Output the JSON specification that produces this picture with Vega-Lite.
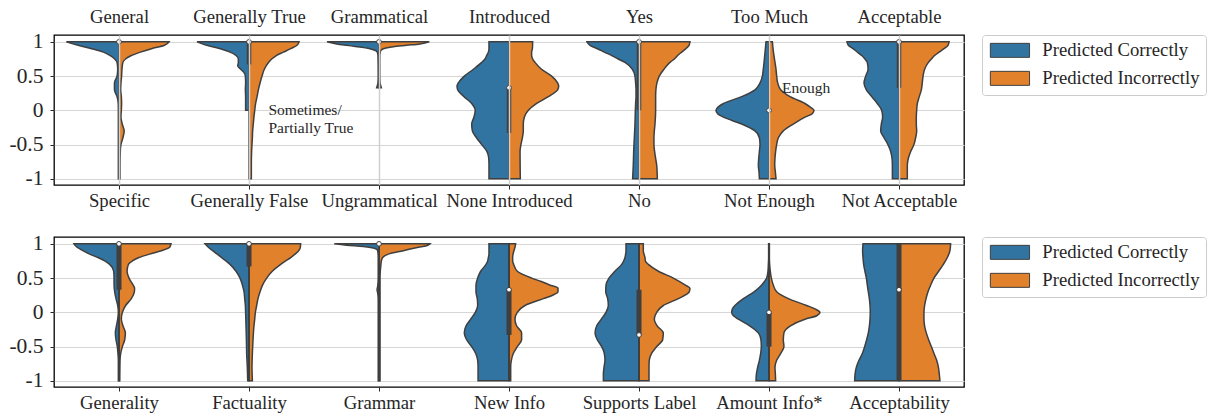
{
"$schema": "https://vega.github.io/schema/vega-lite/v6.json",
"padding": {"left": 8, "top": 6, "right": 0, "bottom": 0},
"config": {
 "font": "Liberation Serif",
 "view": {"stroke": "#000000", "strokeWidth": 1.3},
 "axis": {"labelColor": "#262626", "labelFont": "Liberation Serif", "domain": false, "gridColor": "#d6d6d6", "gridWidth": 1.2, "tickColor": "#262626", "title": null},
 "legend": {"labelFont": "Liberation Serif", "title": null, "symbolType": "M-2.8,-1H2.8V1H-2.8Z", "symbolSize": 196, "symbolOffset": 12.6, "symbolStrokeColor": "#3f3f3f", "symbolStrokeWidth": 1, "symbolOpacity": 1, "labelOffset": 23, "labelFontSize": 18.7, "labelColor": "#262626", "rowPadding": 8, "padding": 6, "offset": 18, "strokeColor": "#cccccc", "fillColor": "#ffffff", "cornerRadius": 3}
},
"datasets": {
"vt": [
{"c":0,"s":"a","v":1,"x":-0.405},{"c":0,"s":"a","v":0.95,"x":-0.315},{"c":0,"s":"a","v":0.9,"x":-0.21},{"c":0,"s":"a","v":0.85,"x":-0.12},{"c":0,"s":"a","v":0.8,"x":-0.067},{"c":0,"s":"a","v":0.75,"x":-0.033},{"c":0,"s":"a","v":0.7,"x":-0.015},{"c":0,"s":"a","v":0.6,"x":-0.01},{"c":0,"s":"a","v":0.5,"x":-0.015},{"c":0,"s":"a","v":0.4,"x":-0.035},{"c":0,"s":"a","v":0.3,"x":-0.035},{"c":0,"s":"a","v":0.2,"x":-0.015},{"c":0,"s":"a","v":0.1,"x":-0.006},{"c":0,"s":"a","v":0,"x":-0.005},{"c":0,"s":"a","v":-0.5,"x":-0.005},{"c":0,"s":"a","v":-1,"x":-0.005},
{"c":0,"s":"b","v":1,"x":0.385},{"c":0,"s":"b","v":0.95,"x":0.35},{"c":0,"s":"b","v":0.9,"x":0.25},{"c":0,"s":"b","v":0.85,"x":0.165},{"c":0,"s":"b","v":0.8,"x":0.095},{"c":0,"s":"b","v":0.75,"x":0.05},{"c":0,"s":"b","v":0.7,"x":0.03},{"c":0,"s":"b","v":0.6,"x":0.023},{"c":0,"s":"b","v":0.5,"x":0.02},{"c":0,"s":"b","v":0.4,"x":0.015},{"c":0,"s":"b","v":0.3,"x":0.013},{"c":0,"s":"b","v":0.2,"x":0.018},{"c":0,"s":"b","v":0.1,"x":0.02},{"c":0,"s":"b","v":0,"x":0.018},{"c":0,"s":"b","v":-0.1,"x":0.015},{"c":0,"s":"b","v":-0.2,"x":0.025},{"c":0,"s":"b","v":-0.3,"x":0.04},{"c":0,"s":"b","v":-0.4,"x":0.03},{"c":0,"s":"b","v":-0.5,"x":0.015},{"c":0,"s":"b","v":-0.6,"x":0.01},{"c":0,"s":"b","v":-0.8,"x":0.008},{"c":0,"s":"b","v":-1,"x":0.008},
{"c":1,"s":"a","v":1,"x":0.6},{"c":1,"s":"a","v":0.95,"x":0.675},{"c":1,"s":"a","v":0.9,"x":0.78},{"c":1,"s":"a","v":0.85,"x":0.855},{"c":1,"s":"a","v":0.8,"x":0.9},{"c":1,"s":"a","v":0.75,"x":0.918},{"c":1,"s":"a","v":0.7,"x":0.918},{"c":1,"s":"a","v":0.65,"x":0.913},{"c":1,"s":"a","v":0.6,"x":0.936},{"c":1,"s":"a","v":0.55,"x":0.962},{"c":1,"s":"a","v":0.5,"x":0.972},{"c":1,"s":"a","v":0.4,"x":0.974},{"c":1,"s":"a","v":0.3,"x":0.972},{"c":1,"s":"a","v":0.2,"x":0.974},{"c":1,"s":"a","v":0.1,"x":0.974},{"c":1,"s":"a","v":0,"x":0.974},
{"c":1,"s":"b","v":1,"x":1.385},{"c":1,"s":"b","v":0.95,"x":1.37},{"c":1,"s":"b","v":0.9,"x":1.32},{"c":1,"s":"b","v":0.85,"x":1.265},{"c":1,"s":"b","v":0.8,"x":1.21},{"c":1,"s":"b","v":0.75,"x":1.175},{"c":1,"s":"b","v":0.7,"x":1.15},{"c":1,"s":"b","v":0.6,"x":1.118},{"c":1,"s":"b","v":0.5,"x":1.1},{"c":1,"s":"b","v":0.4,"x":1.085},{"c":1,"s":"b","v":0.3,"x":1.072},{"c":1,"s":"b","v":0.2,"x":1.062},{"c":1,"s":"b","v":0.1,"x":1.051},{"c":1,"s":"b","v":0,"x":1.044},{"c":1,"s":"b","v":-0.1,"x":1.038},{"c":1,"s":"b","v":-0.2,"x":1.033},{"c":1,"s":"b","v":-0.3,"x":1.028},{"c":1,"s":"b","v":-0.4,"x":1.026},{"c":1,"s":"b","v":-0.5,"x":1.023},{"c":1,"s":"b","v":-0.6,"x":1.02},{"c":1,"s":"b","v":-0.8,"x":1.018},{"c":1,"s":"b","v":-1,"x":1.018},
{"c":2,"s":"a","v":1,"x":1.6},{"c":2,"s":"a","v":0.97,"x":1.675},{"c":2,"s":"a","v":0.95,"x":1.75},{"c":2,"s":"a","v":0.93,"x":1.83},{"c":2,"s":"a","v":0.9,"x":1.93},{"c":2,"s":"a","v":0.87,"x":1.977},{"c":2,"s":"a","v":0.85,"x":1.987},{"c":2,"s":"a","v":0.8,"x":1.992},{"c":2,"s":"a","v":0.5,"x":1.994},{"c":2,"s":"a","v":0.4,"x":1.992},{"c":2,"s":"a","v":0.35,"x":1.985},{"c":2,"s":"a","v":0.33,"x":1.982},
{"c":2,"s":"b","v":1,"x":2.387},{"c":2,"s":"b","v":0.97,"x":2.315},{"c":2,"s":"b","v":0.95,"x":2.213},{"c":2,"s":"b","v":0.93,"x":2.11},{"c":2,"s":"b","v":0.9,"x":2.033},{"c":2,"s":"b","v":0.87,"x":2.013},{"c":2,"s":"b","v":0.85,"x":2.01},{"c":2,"s":"b","v":0.8,"x":2.006},{"c":2,"s":"b","v":0.5,"x":2.006},{"c":2,"s":"b","v":0.4,"x":2.008},{"c":2,"s":"b","v":0.35,"x":2.015},{"c":2,"s":"b","v":0.33,"x":2.018},
{"c":3,"s":"a","v":1,"x":2.846},{"c":3,"s":"a","v":0.9,"x":2.846},{"c":3,"s":"a","v":0.85,"x":2.841},{"c":3,"s":"a","v":0.8,"x":2.828},{"c":3,"s":"a","v":0.75,"x":2.815},{"c":3,"s":"a","v":0.7,"x":2.79},{"c":3,"s":"a","v":0.6,"x":2.726},{"c":3,"s":"a","v":0.5,"x":2.656},{"c":3,"s":"a","v":0.4,"x":2.61},{"c":3,"s":"a","v":0.35,"x":2.6},{"c":3,"s":"a","v":0.3,"x":2.605},{"c":3,"s":"a","v":0.2,"x":2.654},{"c":3,"s":"a","v":0.1,"x":2.713},{"c":3,"s":"a","v":0,"x":2.74},{"c":3,"s":"a","v":-0.1,"x":2.73},{"c":3,"s":"a","v":-0.2,"x":2.713},{"c":3,"s":"a","v":-0.3,"x":2.718},{"c":3,"s":"a","v":-0.4,"x":2.75},{"c":3,"s":"a","v":-0.5,"x":2.79},{"c":3,"s":"a","v":-0.6,"x":2.83},{"c":3,"s":"a","v":-0.7,"x":2.844},{"c":3,"s":"a","v":-0.8,"x":2.846},{"c":3,"s":"a","v":-1,"x":2.846},
{"c":3,"s":"b","v":1,"x":3.182},{"c":3,"s":"b","v":0.9,"x":3.18},{"c":3,"s":"b","v":0.85,"x":3.174},{"c":3,"s":"b","v":0.8,"x":3.174},{"c":3,"s":"b","v":0.75,"x":3.182},{"c":3,"s":"b","v":0.7,"x":3.2},{"c":3,"s":"b","v":0.6,"x":3.25},{"c":3,"s":"b","v":0.5,"x":3.328},{"c":3,"s":"b","v":0.4,"x":3.374},{"c":3,"s":"b","v":0.35,"x":3.382},{"c":3,"s":"b","v":0.3,"x":3.374},{"c":3,"s":"b","v":0.2,"x":3.303},{"c":3,"s":"b","v":0.1,"x":3.213},{"c":3,"s":"b","v":0,"x":3.149},{"c":3,"s":"b","v":-0.1,"x":3.118},{"c":3,"s":"b","v":-0.2,"x":3.11},{"c":3,"s":"b","v":-0.3,"x":3.11},{"c":3,"s":"b","v":-0.4,"x":3.103},{"c":3,"s":"b","v":-0.5,"x":3.092},{"c":3,"s":"b","v":-0.6,"x":3.085},{"c":3,"s":"b","v":-1,"x":3.087},
{"c":4,"s":"a","v":1,"x":3.6},{"c":4,"s":"a","v":0.95,"x":3.623},{"c":4,"s":"a","v":0.9,"x":3.68},{"c":4,"s":"a","v":0.85,"x":3.733},{"c":4,"s":"a","v":0.8,"x":3.79},{"c":4,"s":"a","v":0.75,"x":3.84},{"c":4,"s":"a","v":0.7,"x":3.892},{"c":4,"s":"a","v":0.6,"x":3.949},{"c":4,"s":"a","v":0.5,"x":3.969},{"c":4,"s":"a","v":0.4,"x":3.974},{"c":4,"s":"a","v":0.3,"x":3.977},{"c":4,"s":"a","v":0.2,"x":3.977},{"c":4,"s":"a","v":0.1,"x":3.974},{"c":4,"s":"a","v":0,"x":3.972},{"c":4,"s":"a","v":-0.2,"x":3.969},{"c":4,"s":"a","v":-0.4,"x":3.964},{"c":4,"s":"a","v":-0.6,"x":3.959},{"c":4,"s":"a","v":-0.8,"x":3.956},{"c":4,"s":"a","v":-1,"x":3.951},
{"c":4,"s":"b","v":1,"x":4.392},{"c":4,"s":"b","v":0.95,"x":4.385},{"c":4,"s":"b","v":0.9,"x":4.36},{"c":4,"s":"b","v":0.85,"x":4.328},{"c":4,"s":"b","v":0.8,"x":4.297},{"c":4,"s":"b","v":0.75,"x":4.272},{"c":4,"s":"b","v":0.7,"x":4.238},{"c":4,"s":"b","v":0.6,"x":4.192},{"c":4,"s":"b","v":0.5,"x":4.156},{"c":4,"s":"b","v":0.4,"x":4.138},{"c":4,"s":"b","v":0.3,"x":4.13},{"c":4,"s":"b","v":0.2,"x":4.128},{"c":4,"s":"b","v":0,"x":4.128},{"c":4,"s":"b","v":-0.2,"x":4.123},{"c":4,"s":"b","v":-0.3,"x":4.118},{"c":4,"s":"b","v":-0.4,"x":4.115},{"c":4,"s":"b","v":-0.5,"x":4.115},{"c":4,"s":"b","v":-0.6,"x":4.12},{"c":4,"s":"b","v":-0.7,"x":4.128},{"c":4,"s":"b","v":-0.8,"x":4.136},{"c":4,"s":"b","v":-1,"x":4.141},
{"c":5,"s":"a","v":1,"x":4.977},{"c":5,"s":"a","v":0.9,"x":4.972},{"c":5,"s":"a","v":0.8,"x":4.967},{"c":5,"s":"a","v":0.7,"x":4.962},{"c":5,"s":"a","v":0.6,"x":4.956},{"c":5,"s":"a","v":0.5,"x":4.949},{"c":5,"s":"a","v":0.4,"x":4.931},{"c":5,"s":"a","v":0.3,"x":4.892},{"c":5,"s":"a","v":0.2,"x":4.79},{"c":5,"s":"a","v":0.1,"x":4.65},{"c":5,"s":"a","v":0.05,"x":4.61},{"c":5,"s":"a","v":0,"x":4.592},{"c":5,"s":"a","v":-0.05,"x":4.605},{"c":5,"s":"a","v":-0.1,"x":4.65},{"c":5,"s":"a","v":-0.2,"x":4.79},{"c":5,"s":"a","v":-0.3,"x":4.892},{"c":5,"s":"a","v":-0.4,"x":4.926},{"c":5,"s":"a","v":-0.5,"x":4.931},{"c":5,"s":"a","v":-0.6,"x":4.926},{"c":5,"s":"a","v":-0.7,"x":4.921},{"c":5,"s":"a","v":-0.8,"x":4.918},{"c":5,"s":"a","v":-0.9,"x":4.923},{"c":5,"s":"a","v":-1,"x":4.926},
{"c":5,"s":"b","v":1,"x":5.026},{"c":5,"s":"b","v":0.9,"x":5.031},{"c":5,"s":"b","v":0.8,"x":5.038},{"c":5,"s":"b","v":0.7,"x":5.046},{"c":5,"s":"b","v":0.6,"x":5.054},{"c":5,"s":"b","v":0.5,"x":5.059},{"c":5,"s":"b","v":0.4,"x":5.067},{"c":5,"s":"b","v":0.3,"x":5.09},{"c":5,"s":"b","v":0.2,"x":5.162},{"c":5,"s":"b","v":0.1,"x":5.277},{"c":5,"s":"b","v":0.05,"x":5.315},{"c":5,"s":"b","v":0,"x":5.346},{"c":5,"s":"b","v":-0.05,"x":5.333},{"c":5,"s":"b","v":-0.1,"x":5.277},{"c":5,"s":"b","v":-0.2,"x":5.187},{"c":5,"s":"b","v":-0.3,"x":5.11},{"c":5,"s":"b","v":-0.4,"x":5.072},{"c":5,"s":"b","v":-0.5,"x":5.059},{"c":5,"s":"b","v":-0.6,"x":5.051},{"c":5,"s":"b","v":-0.7,"x":5.046},{"c":5,"s":"b","v":-0.8,"x":5.044},{"c":5,"s":"b","v":-0.9,"x":5.049},{"c":5,"s":"b","v":-1,"x":5.054},
{"c":6,"s":"a","v":1,"x":5.6},{"c":6,"s":"a","v":0.95,"x":5.61},{"c":6,"s":"a","v":0.9,"x":5.646},{"c":6,"s":"a","v":0.85,"x":5.68},{"c":6,"s":"a","v":0.8,"x":5.713},{"c":6,"s":"a","v":0.75,"x":5.738},{"c":6,"s":"a","v":0.7,"x":5.756},{"c":6,"s":"a","v":0.6,"x":5.762},{"c":6,"s":"a","v":0.5,"x":5.744},{"c":6,"s":"a","v":0.4,"x":5.731},{"c":6,"s":"a","v":0.3,"x":5.749},{"c":6,"s":"a","v":0.2,"x":5.79},{"c":6,"s":"a","v":0.1,"x":5.833},{"c":6,"s":"a","v":0,"x":5.867},{"c":6,"s":"a","v":-0.1,"x":5.874},{"c":6,"s":"a","v":-0.2,"x":5.864},{"c":6,"s":"a","v":-0.3,"x":5.859},{"c":6,"s":"a","v":-0.4,"x":5.885},{"c":6,"s":"a","v":-0.5,"x":5.915},{"c":6,"s":"a","v":-0.6,"x":5.936},{"c":6,"s":"a","v":-0.7,"x":5.946},{"c":6,"s":"a","v":-0.8,"x":5.949},{"c":6,"s":"a","v":-1,"x":5.949},
{"c":6,"s":"b","v":1,"x":6.385},{"c":6,"s":"b","v":0.95,"x":6.377},{"c":6,"s":"b","v":0.9,"x":6.346},{"c":6,"s":"b","v":0.85,"x":6.308},{"c":6,"s":"b","v":0.8,"x":6.274},{"c":6,"s":"b","v":0.75,"x":6.249},{"c":6,"s":"b","v":0.7,"x":6.226},{"c":6,"s":"b","v":0.6,"x":6.197},{"c":6,"s":"b","v":0.5,"x":6.185},{"c":6,"s":"b","v":0.4,"x":6.179},{"c":6,"s":"b","v":0.3,"x":6.172},{"c":6,"s":"b","v":0.2,"x":6.156},{"c":6,"s":"b","v":0.1,"x":6.141},{"c":6,"s":"b","v":0,"x":6.136},{"c":6,"s":"b","v":-0.1,"x":6.133},{"c":6,"s":"b","v":-0.2,"x":6.133},{"c":6,"s":"b","v":-0.3,"x":6.136},{"c":6,"s":"b","v":-0.4,"x":6.128},{"c":6,"s":"b","v":-0.5,"x":6.115},{"c":6,"s":"b","v":-0.6,"x":6.09},{"c":6,"s":"b","v":-0.7,"x":6.072},{"c":6,"s":"b","v":-0.8,"x":6.064},{"c":6,"s":"b","v":-1,"x":6.064}
],
"vb": [
{"c":0,"s":"a","v":1,"x":-0.346},{"c":0,"s":"a","v":0.95,"x":-0.323},{"c":0,"s":"a","v":0.9,"x":-0.277},{"c":0,"s":"a","v":0.85,"x":-0.226},{"c":0,"s":"a","v":0.8,"x":-0.162},{"c":0,"s":"a","v":0.75,"x":-0.11},{"c":0,"s":"a","v":0.7,"x":-0.072},{"c":0,"s":"a","v":0.6,"x":-0.041},{"c":0,"s":"a","v":0.5,"x":-0.038},{"c":0,"s":"a","v":0.4,"x":-0.038},{"c":0,"s":"a","v":0.3,"x":-0.033},{"c":0,"s":"a","v":0.2,"x":-0.023},{"c":0,"s":"a","v":0.1,"x":-0.01},{"c":0,"s":"a","v":0,"x":-0.005},{"c":0,"s":"a","v":-0.1,"x":-0.01},{"c":0,"s":"a","v":-0.2,"x":-0.02},{"c":0,"s":"a","v":-0.3,"x":-0.028},{"c":0,"s":"a","v":-0.4,"x":-0.023},{"c":0,"s":"a","v":-0.5,"x":-0.013},{"c":0,"s":"a","v":-0.6,"x":-0.008},{"c":0,"s":"a","v":-0.7,"x":-0.005},{"c":0,"s":"a","v":-1,"x":-0.005},
{"c":0,"s":"b","v":1,"x":0.4},{"c":0,"s":"b","v":0.95,"x":0.39},{"c":0,"s":"b","v":0.9,"x":0.326},{"c":0,"s":"b","v":0.85,"x":0.236},{"c":0,"s":"b","v":0.8,"x":0.154},{"c":0,"s":"b","v":0.75,"x":0.103},{"c":0,"s":"b","v":0.7,"x":0.072},{"c":0,"s":"b","v":0.6,"x":0.062},{"c":0,"s":"b","v":0.5,"x":0.077},{"c":0,"s":"b","v":0.4,"x":0.108},{"c":0,"s":"b","v":0.35,"x":0.12},{"c":0,"s":"b","v":0.3,"x":0.118},{"c":0,"s":"b","v":0.2,"x":0.095},{"c":0,"s":"b","v":0.1,"x":0.051},{"c":0,"s":"b","v":0,"x":0.026},{"c":0,"s":"b","v":-0.1,"x":0.018},{"c":0,"s":"b","v":-0.2,"x":0.031},{"c":0,"s":"b","v":-0.3,"x":0.049},{"c":0,"s":"b","v":-0.4,"x":0.044},{"c":0,"s":"b","v":-0.5,"x":0.026},{"c":0,"s":"b","v":-0.6,"x":0.013},{"c":0,"s":"b","v":-0.7,"x":0.008},{"c":0,"s":"b","v":-1,"x":0.006},
{"c":1,"s":"a","v":1,"x":0.662},{"c":1,"s":"a","v":0.95,"x":0.687},{"c":1,"s":"a","v":0.9,"x":0.72},{"c":1,"s":"a","v":0.85,"x":0.756},{"c":1,"s":"a","v":0.8,"x":0.79},{"c":1,"s":"a","v":0.75,"x":0.823},{"c":1,"s":"a","v":0.7,"x":0.854},{"c":1,"s":"a","v":0.6,"x":0.9},{"c":1,"s":"a","v":0.5,"x":0.931},{"c":1,"s":"a","v":0.4,"x":0.949},{"c":1,"s":"a","v":0.3,"x":0.962},{"c":1,"s":"a","v":0.2,"x":0.967},{"c":1,"s":"a","v":0.1,"x":0.972},{"c":1,"s":"a","v":0,"x":0.974},{"c":1,"s":"a","v":-0.2,"x":0.977},{"c":1,"s":"a","v":-0.4,"x":0.98},{"c":1,"s":"a","v":-0.6,"x":0.982},{"c":1,"s":"a","v":-0.8,"x":0.987},{"c":1,"s":"a","v":-1,"x":0.99},
{"c":1,"s":"b","v":1,"x":1.397},{"c":1,"s":"b","v":0.95,"x":1.395},{"c":1,"s":"b","v":0.9,"x":1.382},{"c":1,"s":"b","v":0.85,"x":1.354},{"c":1,"s":"b","v":0.8,"x":1.321},{"c":1,"s":"b","v":0.75,"x":1.282},{"c":1,"s":"b","v":0.7,"x":1.244},{"c":1,"s":"b","v":0.6,"x":1.179},{"c":1,"s":"b","v":0.5,"x":1.136},{"c":1,"s":"b","v":0.4,"x":1.105},{"c":1,"s":"b","v":0.3,"x":1.085},{"c":1,"s":"b","v":0.2,"x":1.069},{"c":1,"s":"b","v":0.1,"x":1.059},{"c":1,"s":"b","v":0,"x":1.049},{"c":1,"s":"b","v":-0.1,"x":1.044},{"c":1,"s":"b","v":-0.2,"x":1.038},{"c":1,"s":"b","v":-0.4,"x":1.031},{"c":1,"s":"b","v":-0.6,"x":1.026},{"c":1,"s":"b","v":-0.8,"x":1.023},{"c":1,"s":"b","v":-1,"x":1.026},
{"c":2,"s":"a","v":1,"x":1.656},{"c":2,"s":"a","v":0.98,"x":1.75},{"c":2,"s":"a","v":0.96,"x":1.88},{"c":2,"s":"a","v":0.94,"x":1.956},{"c":2,"s":"a","v":0.92,"x":1.982},{"c":2,"s":"a","v":0.9,"x":1.99},{"c":2,"s":"a","v":0.8,"x":1.994},{"c":2,"s":"a","v":0.5,"x":1.994},{"c":2,"s":"a","v":0.38,"x":1.99},{"c":2,"s":"a","v":0.33,"x":1.985},{"c":2,"s":"a","v":0.28,"x":1.99},{"c":2,"s":"a","v":0.2,"x":1.994},{"c":2,"s":"a","v":-1,"x":1.994},
{"c":2,"s":"b","v":1,"x":2.392},{"c":2,"s":"b","v":0.97,"x":2.36},{"c":2,"s":"b","v":0.95,"x":2.303},{"c":2,"s":"b","v":0.9,"x":2.187},{"c":2,"s":"b","v":0.85,"x":2.072},{"c":2,"s":"b","v":0.8,"x":2.028},{"c":2,"s":"b","v":0.75,"x":2.018},{"c":2,"s":"b","v":0.7,"x":2.015},{"c":2,"s":"b","v":0.6,"x":2.01},{"c":2,"s":"b","v":0.5,"x":2.008},{"c":2,"s":"b","v":-1,"x":2.008},
{"c":3,"s":"a","v":1,"x":2.846},{"c":3,"s":"a","v":0.85,"x":2.846},{"c":3,"s":"a","v":0.8,"x":2.841},{"c":3,"s":"a","v":0.75,"x":2.836},{"c":3,"s":"a","v":0.7,"x":2.823},{"c":3,"s":"a","v":0.6,"x":2.782},{"c":3,"s":"a","v":0.5,"x":2.759},{"c":3,"s":"a","v":0.4,"x":2.746},{"c":3,"s":"a","v":0.3,"x":2.746},{"c":3,"s":"a","v":0.2,"x":2.756},{"c":3,"s":"a","v":0.1,"x":2.759},{"c":3,"s":"a","v":0,"x":2.741},{"c":3,"s":"a","v":-0.1,"x":2.705},{"c":3,"s":"a","v":-0.2,"x":2.669},{"c":3,"s":"a","v":-0.3,"x":2.656},{"c":3,"s":"a","v":-0.4,"x":2.674},{"c":3,"s":"a","v":-0.5,"x":2.713},{"c":3,"s":"a","v":-0.6,"x":2.744},{"c":3,"s":"a","v":-0.7,"x":2.759},{"c":3,"s":"a","v":-0.8,"x":2.762},{"c":3,"s":"a","v":-1,"x":2.762},
{"c":3,"s":"b","v":1,"x":3.051},{"c":3,"s":"b","v":0.95,"x":3.046},{"c":3,"s":"b","v":0.9,"x":3.038},{"c":3,"s":"b","v":0.85,"x":3.031},{"c":3,"s":"b","v":0.8,"x":3.028},{"c":3,"s":"b","v":0.75,"x":3.028},{"c":3,"s":"b","v":0.7,"x":3.036},{"c":3,"s":"b","v":0.6,"x":3.064},{"c":3,"s":"b","v":0.5,"x":3.174},{"c":3,"s":"b","v":0.45,"x":3.249},{"c":3,"s":"b","v":0.4,"x":3.313},{"c":3,"s":"b","v":0.35,"x":3.377},{"c":3,"s":"b","v":0.3,"x":3.377},{"c":3,"s":"b","v":0.25,"x":3.336},{"c":3,"s":"b","v":0.2,"x":3.264},{"c":3,"s":"b","v":0.1,"x":3.123},{"c":3,"s":"b","v":0,"x":3.064},{"c":3,"s":"b","v":-0.1,"x":3.046},{"c":3,"s":"b","v":-0.2,"x":3.059},{"c":3,"s":"b","v":-0.3,"x":3.097},{"c":3,"s":"b","v":-0.4,"x":3.097},{"c":3,"s":"b","v":-0.5,"x":3.064},{"c":3,"s":"b","v":-0.6,"x":3.033},{"c":3,"s":"b","v":-0.7,"x":3.018},{"c":3,"s":"b","v":-0.8,"x":3.013},{"c":3,"s":"b","v":-1,"x":3.013},
{"c":4,"s":"a","v":1,"x":3.9},{"c":4,"s":"a","v":0.9,"x":3.9},{"c":4,"s":"a","v":0.85,"x":3.897},{"c":4,"s":"a","v":0.8,"x":3.892},{"c":4,"s":"a","v":0.75,"x":3.882},{"c":4,"s":"a","v":0.7,"x":3.867},{"c":4,"s":"a","v":0.6,"x":3.815},{"c":4,"s":"a","v":0.5,"x":3.769},{"c":4,"s":"a","v":0.4,"x":3.746},{"c":4,"s":"a","v":0.3,"x":3.744},{"c":4,"s":"a","v":0.2,"x":3.759},{"c":4,"s":"a","v":0.1,"x":3.764},{"c":4,"s":"a","v":0,"x":3.746},{"c":4,"s":"a","v":-0.1,"x":3.71},{"c":4,"s":"a","v":-0.2,"x":3.674},{"c":4,"s":"a","v":-0.3,"x":3.662},{"c":4,"s":"a","v":-0.4,"x":3.679},{"c":4,"s":"a","v":-0.5,"x":3.713},{"c":4,"s":"a","v":-0.6,"x":3.733},{"c":4,"s":"a","v":-0.7,"x":3.738},{"c":4,"s":"a","v":-0.8,"x":3.731},{"c":4,"s":"a","v":-0.9,"x":3.726},{"c":4,"s":"a","v":-1,"x":3.726},
{"c":4,"s":"b","v":1,"x":4.033},{"c":4,"s":"b","v":0.9,"x":4.033},{"c":4,"s":"b","v":0.8,"x":4.046},{"c":4,"s":"b","v":0.75,"x":4.049},{"c":4,"s":"b","v":0.7,"x":4.072},{"c":4,"s":"b","v":0.6,"x":4.149},{"c":4,"s":"b","v":0.5,"x":4.264},{"c":4,"s":"b","v":0.4,"x":4.354},{"c":4,"s":"b","v":0.35,"x":4.392},{"c":4,"s":"b","v":0.3,"x":4.387},{"c":4,"s":"b","v":0.2,"x":4.303},{"c":4,"s":"b","v":0.1,"x":4.187},{"c":4,"s":"b","v":0,"x":4.136},{"c":4,"s":"b","v":-0.1,"x":4.118},{"c":4,"s":"b","v":-0.2,"x":4.141},{"c":4,"s":"b","v":-0.3,"x":4.187},{"c":4,"s":"b","v":-0.4,"x":4.182},{"c":4,"s":"b","v":-0.5,"x":4.136},{"c":4,"s":"b","v":-0.6,"x":4.097},{"c":4,"s":"b","v":-0.7,"x":4.079},{"c":4,"s":"b","v":-0.8,"x":4.077},{"c":4,"s":"b","v":-1,"x":4.077},
{"c":5,"s":"a","v":1,"x":4.997},{"c":5,"s":"a","v":0.8,"x":4.997},{"c":5,"s":"a","v":0.7,"x":4.995},{"c":5,"s":"a","v":0.6,"x":4.992},{"c":5,"s":"a","v":0.5,"x":4.982},{"c":5,"s":"a","v":0.4,"x":4.944},{"c":5,"s":"a","v":0.3,"x":4.885},{"c":5,"s":"a","v":0.2,"x":4.803},{"c":5,"s":"a","v":0.1,"x":4.738},{"c":5,"s":"a","v":0.05,"x":4.718},{"c":5,"s":"a","v":0,"x":4.713},{"c":5,"s":"a","v":-0.05,"x":4.726},{"c":5,"s":"a","v":-0.1,"x":4.764},{"c":5,"s":"a","v":-0.2,"x":4.854},{"c":5,"s":"a","v":-0.3,"x":4.918},{"c":5,"s":"a","v":-0.4,"x":4.938},{"c":5,"s":"a","v":-0.5,"x":4.941},{"c":5,"s":"a","v":-0.6,"x":4.936},{"c":5,"s":"a","v":-0.7,"x":4.926},{"c":5,"s":"a","v":-0.8,"x":4.913},{"c":5,"s":"a","v":-0.9,"x":4.903},{"c":5,"s":"a","v":-1,"x":4.9},
{"c":5,"s":"b","v":1,"x":5.003},{"c":5,"s":"b","v":0.8,"x":5.003},{"c":5,"s":"b","v":0.7,"x":5.005},{"c":5,"s":"b","v":0.6,"x":5.01},{"c":5,"s":"b","v":0.5,"x":5.018},{"c":5,"s":"b","v":0.4,"x":5.033},{"c":5,"s":"b","v":0.3,"x":5.059},{"c":5,"s":"b","v":0.2,"x":5.149},{"c":5,"s":"b","v":0.1,"x":5.29},{"c":5,"s":"b","v":0.05,"x":5.354},{"c":5,"s":"b","v":0,"x":5.392},{"c":5,"s":"b","v":-0.05,"x":5.367},{"c":5,"s":"b","v":-0.1,"x":5.277},{"c":5,"s":"b","v":-0.2,"x":5.162},{"c":5,"s":"b","v":-0.3,"x":5.115},{"c":5,"s":"b","v":-0.4,"x":5.11},{"c":5,"s":"b","v":-0.5,"x":5.115},{"c":5,"s":"b","v":-0.6,"x":5.09},{"c":5,"s":"b","v":-0.7,"x":5.059},{"c":5,"s":"b","v":-0.8,"x":5.046},{"c":5,"s":"b","v":-0.9,"x":5.049},{"c":5,"s":"b","v":-1,"x":5.051},
{"c":6,"s":"a","v":1,"x":5.723},{"c":6,"s":"a","v":0.9,"x":5.72},{"c":6,"s":"a","v":0.8,"x":5.723},{"c":6,"s":"a","v":0.7,"x":5.728},{"c":6,"s":"a","v":0.6,"x":5.738},{"c":6,"s":"a","v":0.5,"x":5.749},{"c":6,"s":"a","v":0.4,"x":5.756},{"c":6,"s":"a","v":0.3,"x":5.764},{"c":6,"s":"a","v":0.2,"x":5.772},{"c":6,"s":"a","v":0.1,"x":5.777},{"c":6,"s":"a","v":0,"x":5.779},{"c":6,"s":"a","v":-0.1,"x":5.777},{"c":6,"s":"a","v":-0.2,"x":5.772},{"c":6,"s":"a","v":-0.3,"x":5.764},{"c":6,"s":"a","v":-0.4,"x":5.751},{"c":6,"s":"a","v":-0.5,"x":5.736},{"c":6,"s":"a","v":-0.6,"x":5.718},{"c":6,"s":"a","v":-0.7,"x":5.692},{"c":6,"s":"a","v":-0.8,"x":5.672},{"c":6,"s":"a","v":-0.9,"x":5.662},{"c":6,"s":"a","v":-1,"x":5.659},
{"c":6,"s":"b","v":1,"x":6.397},{"c":6,"s":"b","v":0.9,"x":6.392},{"c":6,"s":"b","v":0.8,"x":6.372},{"c":6,"s":"b","v":0.7,"x":6.341},{"c":6,"s":"b","v":0.6,"x":6.305},{"c":6,"s":"b","v":0.5,"x":6.269},{"c":6,"s":"b","v":0.4,"x":6.244},{"c":6,"s":"b","v":0.3,"x":6.223},{"c":6,"s":"b","v":0.2,"x":6.208},{"c":6,"s":"b","v":0.1,"x":6.197},{"c":6,"s":"b","v":0,"x":6.192},{"c":6,"s":"b","v":-0.1,"x":6.192},{"c":6,"s":"b","v":-0.2,"x":6.197},{"c":6,"s":"b","v":-0.3,"x":6.21},{"c":6,"s":"b","v":-0.4,"x":6.228},{"c":6,"s":"b","v":-0.5,"x":6.249},{"c":6,"s":"b","v":-0.6,"x":6.269},{"c":6,"s":"b","v":-0.7,"x":6.29},{"c":6,"s":"b","v":-0.8,"x":6.303},{"c":6,"s":"b","v":-0.9,"x":6.31},{"c":6,"s":"b","v":-1,"x":6.315}
],
"bt": [
{"c":0,"q1":1,"q3":1,"m":1},{"c":1,"q1":0.67,"q3":1,"m":1},{"c":2,"q1":1,"q3":1,"m":1},{"c":3,"q1":-0.33,"q3":0.33,"m":0.33},{"c":4,"q1":0,"q3":1,"m":1},{"c":5,"q1":0,"q3":0,"m":0},{"c":6,"q1":0.33,"q3":1,"m":1}
],
"bb": [
{"c":0,"lo":-1,"hi":1,"q1":0.33,"q3":1,"m":1},{"c":1,"lo":-1,"hi":1,"q1":0.67,"q3":1,"m":1},{"c":2,"lo":-1,"hi":1,"q1":1,"q3":1,"m":1},{"c":3,"lo":-1,"hi":1,"q1":-0.33,"q3":0.33,"m":0.33},{"c":4,"lo":-1,"hi":1,"q1":-0.33,"q3":0.33,"m":-0.33},{"c":5,"lo":-1,"hi":1,"q1":-0.5,"q3":0,"m":0},{"c":6,"lo":-1,"hi":1,"q1":-1,"q3":1,"m":0.33}
]
},
"spacing": 21,
"resolve": {"scale": {"color": "independent"}, "legend": {"color": "independent"}},
"vconcat": [
{
 "width": 910, "height": 150,
 "resolve": {"axis": {"x": "independent"}},
 "layer": [
  {
   "data": {"name": "vt"},
   "mark": {"type": "area", "orient": "horizontal", "interpolate": "monotone", "stroke": "#3f3f3f", "strokeWidth": 1.5, "opacity": 1},
   "encoding": {
    "y": {"field": "v", "type": "quantitative", "scale": {"domain": [-1.09, 1.1], "nice": false, "zero": false},
          "axis": {"values": [-1, -0.5, 0, 0.5, 1], "tickCount": 10, "format": "~g", "labelExpr": "replace(datum.label, '\u2212', '-')", "labelOverlap": false, "tickSize": 4, "labelPadding": 7, "labelFontSize": 21.5, "grid": true}},
    "x": {"field": "x", "type": "quantitative", "stack": null, "scale": {"domain": [-0.5, 6.5], "nice": false, "zero": false},
          "axis": {"orient": "bottom", "values": [0, 1, 2, 3, 4, 5, 6], "tickCount": 10, "labelExpr": "['Specific','Generally False','Ungrammatical','None Introduced','No','Not Enough','Not Acceptable'][datum.value]", "tickSize": 4, "labelPadding": 2, "labelFontSize": 18.7, "grid": true, "gridColor": "#cfcfcf", "gridWidth": 1.5, "zindex": 1}},
    "x2": {"field": "c"},
    "detail": {"field": "c", "type": "nominal"},
    "color": {"field": "s", "type": "nominal", "scale": {"domain": ["a", "b"], "range": ["#3274a1", "#e1812c"]},
              "legend": {"labelExpr": "datum.value == 'a' ? 'Predicted Correctly' : 'Predicted Incorrectly'"}}
   }
  },
  {
   "data": {"name": "bt"},
   "mark": {"type": "rule", "strokeWidth": 4.5, "color": "#3f3f3f"},
   "encoding": {
    "x": {"field": "c", "type": "quantitative", "axis": {"orient": "top", "values": [0, 1, 2, 3, 4, 5, 6], "tickCount": 10, "labelExpr": "['General','Generally True','Grammatical','Introduced','Yes','Too Much','Acceptable'][datum.value]", "tickSize": 0, "labelPadding": 9, "labelFontSize": 18.7, "grid": false}},
    "y": {"field": "q1", "type": "quantitative"},
    "y2": {"field": "q3"}
   }
  },
  {
   "data": {"name": "bt"},
   "mark": {"type": "point", "filled": true, "fill": "#ffffff", "stroke": "#3f3f3f", "strokeWidth": 1, "size": 22, "opacity": 1, "zindex": 2},
   "encoding": {
    "x": {"field": "c", "type": "quantitative", "axis": null},
    "y": {"field": "m", "type": "quantitative"}
   }
  },
  {
   "data": {"values": [{"x": 1.15, "v": 0, "t": "Sometimes/\nPartially True"}, {"x": 5.1, "v": 0.33, "t": "Enough"}]},
   "mark": {"type": "text", "align": "left", "baseline": "middle", "fontSize": 15.5, "lineHeight": 17.5, "lineBreak": "\n", "color": "#262626", "font": "Liberation Serif"},
   "encoding": {
    "x": {"field": "x", "type": "quantitative", "axis": null},
    "y": {"field": "v", "type": "quantitative"},
    "text": {"field": "t"}
   }
  }
 ]
},
{
 "width": 910, "height": 150,
 "layer": [
  {
   "data": {"name": "vb"},
   "mark": {"type": "area", "orient": "horizontal", "interpolate": "monotone", "stroke": "#3f3f3f", "strokeWidth": 1.5, "opacity": 1},
   "encoding": {
    "y": {"field": "v", "type": "quantitative", "scale": {"domain": [-1.09, 1.1], "nice": false, "zero": false},
          "axis": {"values": [-1, -0.5, 0, 0.5, 1], "tickCount": 10, "format": "~g", "labelExpr": "replace(datum.label, '\u2212', '-')", "labelOverlap": false, "tickSize": 4, "labelPadding": 7, "labelFontSize": 21.5, "grid": true}},
    "x": {"field": "x", "type": "quantitative", "stack": null, "scale": {"domain": [-0.5, 6.5], "nice": false, "zero": false},
          "axis": {"orient": "bottom", "values": [0, 1, 2, 3, 4, 5, 6], "tickCount": 10, "labelExpr": "['Generality','Factuality','Grammar','New Info','Supports Label','Amount Info*','Acceptability'][datum.value]", "tickSize": 4, "labelPadding": 2, "labelFontSize": 18.7, "grid": false}},
    "x2": {"field": "c"},
    "detail": {"field": "c", "type": "nominal"},
    "color": {"field": "s", "type": "nominal", "scale": {"domain": ["a", "b"], "range": ["#3274a1", "#e1812c"]},
              "legend": {"labelExpr": "datum.value == 'a' ? 'Predicted Correctly' : 'Predicted Incorrectly'"}}
   }
  },
  {
   "data": {"name": "bb"},
   "mark": {"type": "rule", "strokeWidth": 1.8, "color": "#3f3f3f"},
   "encoding": {
    "x": {"field": "c", "type": "quantitative"},
    "y": {"field": "lo", "type": "quantitative"},
    "y2": {"field": "hi"}
   }
  },
  {
   "data": {"name": "bb"},
   "mark": {"type": "rule", "strokeWidth": 5, "color": "#3f3f3f"},
   "encoding": {
    "x": {"field": "c", "type": "quantitative"},
    "y": {"field": "q1", "type": "quantitative"},
    "y2": {"field": "q3"}
   }
  },
  {
   "data": {"name": "bb"},
   "mark": {"type": "point", "filled": true, "fill": "#ffffff", "stroke": "#3f3f3f", "strokeWidth": 1, "size": 22, "opacity": 1},
   "encoding": {
    "x": {"field": "c", "type": "quantitative"},
    "y": {"field": "m", "type": "quantitative"}
   }
  }
 ]
}
]
}
